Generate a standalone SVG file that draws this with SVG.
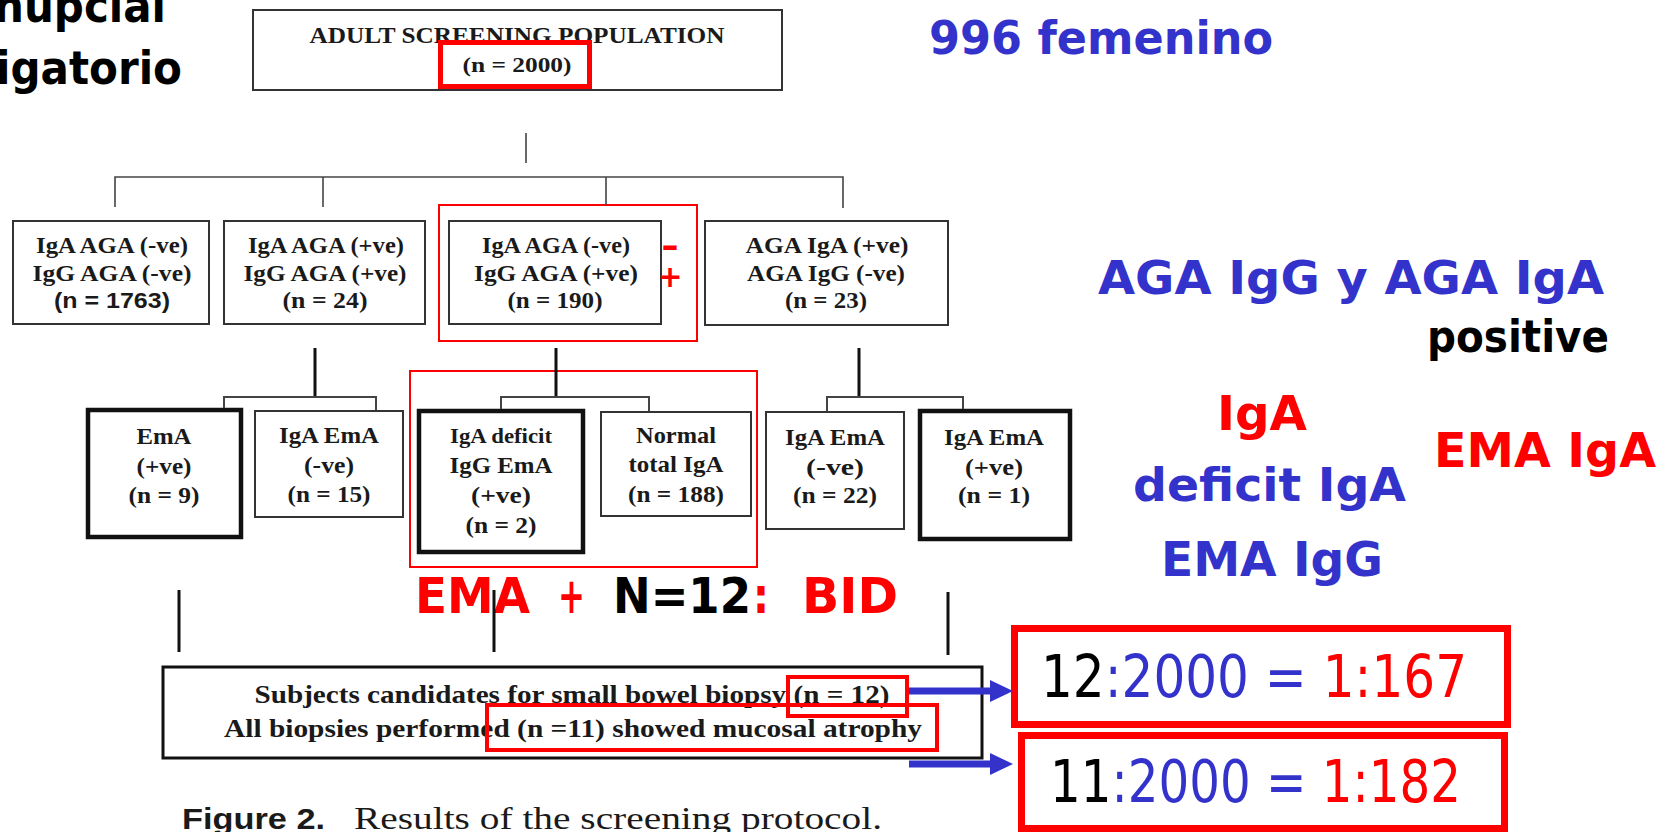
<svg xmlns="http://www.w3.org/2000/svg" width="1663" height="832" viewBox="0 0 1663 832">
<style>
.bg{fill:#fff}
.box{fill:#fff;stroke:#333;stroke-width:2}
.tbox{fill:#fff;stroke:#111;stroke-width:4.5}
.bbox{fill:#fff;stroke:#111;stroke-width:3}
.t{font-family:"Liberation Serif",serif;font-weight:bold;fill:#1a1a1a;text-anchor:middle}
.ts{font-family:"Liberation Sans",sans-serif;font-weight:bold;fill:#1a1a1a;text-anchor:middle}
.c{font-family:"DejaVu Sans",sans-serif;font-weight:bold}
.cn{font-family:"DejaVu Sans",sans-serif}
.blue{fill:#3333CC}
.red{fill:#FF0000}
.blk{fill:#000}
.thin{stroke:#444;stroke-width:1.6;fill:none}
.thick{stroke:#111;stroke-width:3;fill:none}
.hl{fill:none;stroke:#FF0000}
.arrow{stroke:#3333CC;stroke-width:7;fill:none}
</style>
<defs>
<marker id="ah" markerWidth="24" markerHeight="24" refX="0" refY="11" orient="auto" markerUnits="userSpaceOnUse" viewBox="0 0 24 22">
<path d="M0,0 L23,11 L0,22 z" fill="#3333CC"/>
</marker>
</defs>
<rect class="bg" x="0" y="0" width="1663" height="832"/>

<g id="top">
<rect class="box" x="253" y="10" width="529" height="80"/>
<text class="t" x="517" y="43" font-size="23" textLength="415" lengthAdjust="spacingAndGlyphs">ADULT SCREENING POPULATION</text>
<text class="t" x="517" y="72" font-size="22" textLength="109" lengthAdjust="spacingAndGlyphs">(n = 2000)</text>
<rect class="hl" x="440.5" y="42.5" width="149" height="44" stroke-width="5"/>
</g>

<g id="n1763">
<rect class="box" x="13" y="221" width="196" height="103"/>
<text class="t" x="112" y="253" font-size="24" textLength="152" lengthAdjust="spacingAndGlyphs">IgA AGA (-ve)</text>
<text class="t" x="112" y="281" font-size="24" textLength="159" lengthAdjust="spacingAndGlyphs">IgG AGA (-ve)</text>
<text class="ts" x="112" y="308" font-size="22" textLength="116" lengthAdjust="spacingAndGlyphs">(n = 1763)</text>
</g>

<g id="n24">
<rect class="box" x="224" y="221" width="201" height="103"/>
<text class="t" x="326" y="253" font-size="24" textLength="156" lengthAdjust="spacingAndGlyphs">IgA AGA (+ve)</text>
<text class="t" x="325" y="281" font-size="24" textLength="163" lengthAdjust="spacingAndGlyphs">IgG AGA (+ve)</text>
<text class="t" x="325" y="308" font-size="24" textLength="85" lengthAdjust="spacingAndGlyphs">(n = 24)</text>
</g>

<g id="n190">
<rect class="box" x="449" y="221" width="212" height="103"/>
<text class="t" x="556" y="253" font-size="24" textLength="148" lengthAdjust="spacingAndGlyphs">IgA AGA (-ve)</text>
<text class="t" x="556" y="281" font-size="24" textLength="164" lengthAdjust="spacingAndGlyphs">IgG AGA (+ve)</text>
<text class="t" x="555" y="308" font-size="24" textLength="95" lengthAdjust="spacingAndGlyphs">(n = 190)</text>
<rect class="hl" x="439" y="205" width="258" height="136" stroke-width="2"/>
<text class="c red" x="670" y="257" font-size="32" text-anchor="middle" textLength="18" lengthAdjust="spacingAndGlyphs">-</text>
<text class="c red" x="670" y="287" font-size="30" text-anchor="middle">+</text>
</g>

<g id="n23">
<rect class="box" x="705" y="221" width="243" height="104"/>
<text class="t" x="827" y="253" font-size="24" textLength="163" lengthAdjust="spacingAndGlyphs">AGA IgA (+ve)</text>
<text class="t" x="826" y="281" font-size="24" textLength="158" lengthAdjust="spacingAndGlyphs">AGA IgG (-ve)</text>
<text class="t" x="826" y="308" font-size="24" textLength="82" lengthAdjust="spacingAndGlyphs">(n = 23)</text>
</g>

<g id="n9">
<rect class="tbox" x="88" y="410" width="153" height="127"/>
<text class="t" x="164" y="444" font-size="23" textLength="55" lengthAdjust="spacingAndGlyphs">EmA</text>
<text class="t" x="164" y="474" font-size="23" textLength="55" lengthAdjust="spacingAndGlyphs">(+ve)</text>
<text class="t" x="164" y="503" font-size="23" textLength="71" lengthAdjust="spacingAndGlyphs">(n = 9)</text>
</g>

<g id="n15">
<rect class="box" x="255" y="411" width="148" height="106"/>
<text class="t" x="329" y="443" font-size="23" textLength="100" lengthAdjust="spacingAndGlyphs">IgA EmA</text>
<text class="t" x="329" y="473" font-size="23" textLength="50" lengthAdjust="spacingAndGlyphs">(-ve)</text>
<text class="t" x="329" y="502" font-size="23" textLength="83" lengthAdjust="spacingAndGlyphs">(n = 15)</text>
</g>

<g id="n2">
<rect class="tbox" x="419" y="411" width="164" height="141"/>
<text class="t" x="501" y="443" font-size="20" textLength="102" lengthAdjust="spacingAndGlyphs">IgA deficit</text>
<text class="t" x="501" y="473" font-size="23" textLength="103" lengthAdjust="spacingAndGlyphs">IgG EmA</text>
<text class="t" x="501" y="503" font-size="23" textLength="60" lengthAdjust="spacingAndGlyphs">(+ve)</text>
<text class="t" x="501" y="533" font-size="23" textLength="71" lengthAdjust="spacingAndGlyphs">(n = 2)</text>
</g>

<g id="n188">
<rect class="box" x="601" y="412" width="150" height="104"/>
<text class="t" x="676" y="443" font-size="23" textLength="80" lengthAdjust="spacingAndGlyphs">Normal</text>
<text class="t" x="676" y="472" font-size="23" textLength="95" lengthAdjust="spacingAndGlyphs">total IgA</text>
<text class="t" x="676" y="502" font-size="23" textLength="96" lengthAdjust="spacingAndGlyphs">(n = 188)</text>
<rect class="hl" x="410" y="371" width="347" height="196" stroke-width="2"/>
</g>

<g id="n22">
<rect class="box" x="766" y="412" width="138" height="117"/>
<text class="t" x="835" y="445" font-size="23" textLength="100" lengthAdjust="spacingAndGlyphs">IgA EmA</text>
<text class="t" x="835" y="475" font-size="23" textLength="58" lengthAdjust="spacingAndGlyphs">(-ve)</text>
<text class="t" x="835" y="503" font-size="23" textLength="84" lengthAdjust="spacingAndGlyphs">(n = 22)</text>
</g>

<g id="n1">
<rect class="tbox" x="920" y="411" width="150" height="128"/>
<text class="t" x="994" y="445" font-size="23" textLength="100" lengthAdjust="spacingAndGlyphs">IgA EmA</text>
<text class="t" x="994" y="475" font-size="23" textLength="58" lengthAdjust="spacingAndGlyphs">(+ve)</text>
<text class="t" x="994" y="503" font-size="23" textLength="72" lengthAdjust="spacingAndGlyphs">(n = 1)</text>
</g>

<g id="biopsy">
<rect class="bbox" x="163" y="667" width="819" height="91"/>
<text class="t" x="572" y="703" font-size="26" textLength="635" lengthAdjust="spacingAndGlyphs">Subjects candidates for small bowel biopsy (n = 12)</text>
<text class="t" x="573" y="737" font-size="26" textLength="698" lengthAdjust="spacingAndGlyphs">All biopsies performed (n =11) showed mucosal atrophy</text>
<rect class="hl" x="788" y="677" width="119" height="39" stroke-width="4"/>
<rect class="hl" x="487" y="705" width="450" height="45" stroke-width="4"/>
</g>

<g id="caption">
<text x="182" y="829" font-family="Liberation Sans,sans-serif" font-weight="bold" font-size="30" fill="#1a1a1a" textLength="143" lengthAdjust="spacingAndGlyphs">Figure 2.</text>
<text x="354" y="829" font-family="Liberation Serif,serif" font-size="31" fill="#1a1a1a" textLength="528" lengthAdjust="spacingAndGlyphs">Results of the screening protocol.</text>
</g>

<g id="ratio1">
<rect class="hl" x="1014.5" y="628.5" width="493" height="96" stroke-width="7"/>
<text class="cn" x="1041" y="697" font-size="58" textLength="426" lengthAdjust="spacingAndGlyphs"><tspan class="blk">12</tspan><tspan class="blue">:2000 = </tspan><tspan class="red">1:167</tspan></text>
</g>

<g id="ratio2">
<rect class="hl" x="1021.5" y="735.5" width="483" height="93" stroke-width="7"/>
<text class="cn" x="1050" y="802" font-size="58" textLength="411" lengthAdjust="spacingAndGlyphs"><tspan class="blk">11</tspan><tspan class="blue">:2000 = </tspan><tspan class="red">1:182</tspan></text>
</g>

<g id="notes">
<text class="c blk" x="166" y="22" font-size="46" text-anchor="end" textLength="172" lengthAdjust="spacingAndGlyphs">nupcial</text>
<text class="c blk" x="182" y="84" font-size="46" text-anchor="end" textLength="186" lengthAdjust="spacingAndGlyphs">igatorio</text>
<text class="c blue" x="929" y="54" font-size="46" textLength="344" lengthAdjust="spacingAndGlyphs">996 femenino</text>
<text class="c blue" x="1098" y="294" font-size="46" textLength="506" lengthAdjust="spacingAndGlyphs">AGA IgG y AGA IgA</text>
<text class="c blk" x="1427" y="352" font-size="44" textLength="182" lengthAdjust="spacingAndGlyphs">positive</text>
<text class="c red" x="1217" y="430" font-size="48" textLength="90" lengthAdjust="spacingAndGlyphs">IgA</text>
<text class="c red" x="1434" y="467" font-size="48" textLength="222" lengthAdjust="spacingAndGlyphs">EMA IgA</text>
<text class="c blue" x="1133" y="501" font-size="46" textLength="273" lengthAdjust="spacingAndGlyphs">deficit IgA</text>
<text class="c blue" x="1161" y="576" font-size="48" textLength="222" lengthAdjust="spacingAndGlyphs">EMA IgG</text>
<text class="c" x="415" y="613" font-size="50"><tspan class="red" x="415" textLength="115" lengthAdjust="spacingAndGlyphs">EMA</tspan><tspan class="red" x="558" textLength="27" lengthAdjust="spacingAndGlyphs">+</tspan><tspan class="blk" x="613" textLength="138" lengthAdjust="spacingAndGlyphs">N=12</tspan><tspan class="red" x="753" textLength="16" lengthAdjust="spacingAndGlyphs">:</tspan><tspan class="red" x="802" textLength="96" lengthAdjust="spacingAndGlyphs">BID</tspan></text>
</g>

<g id="connectors">
<line class="thin" x1="526" y1="133" x2="526" y2="163"/>
<polyline class="thin" points="115,207 115,177 843,177 843,208"/>
<line class="thin" x1="323" y1="177" x2="323" y2="207"/>
<line class="thin" x1="606" y1="177" x2="606" y2="205"/>
<line class="thick" x1="315" y1="348" x2="315" y2="397"/>
<line class="thick" x1="556" y1="348" x2="556" y2="397"/>
<line class="thick" x1="859" y1="348" x2="859" y2="397"/>
<polyline class="thin" points="224,408 224,397 376,397 376,410" style="stroke-width:2"/>
<polyline class="thin" points="501,409 501,397 649,397 649,411" style="stroke-width:2"/>
<polyline class="thin" points="827,411 827,397 963,397 963,409" style="stroke-width:2"/>
<line class="thick" x1="179" y1="590" x2="179" y2="652"/>
<line class="thick" x1="494" y1="590" x2="494" y2="652"/>
<line class="thick" x1="948" y1="592" x2="948" y2="655"/>
<line class="arrow" x1="909" y1="691" x2="990" y2="691" marker-end="url(#ah)"/>
<line class="arrow" x1="909" y1="764" x2="990" y2="764" marker-end="url(#ah)"/>
</g>
</svg>
